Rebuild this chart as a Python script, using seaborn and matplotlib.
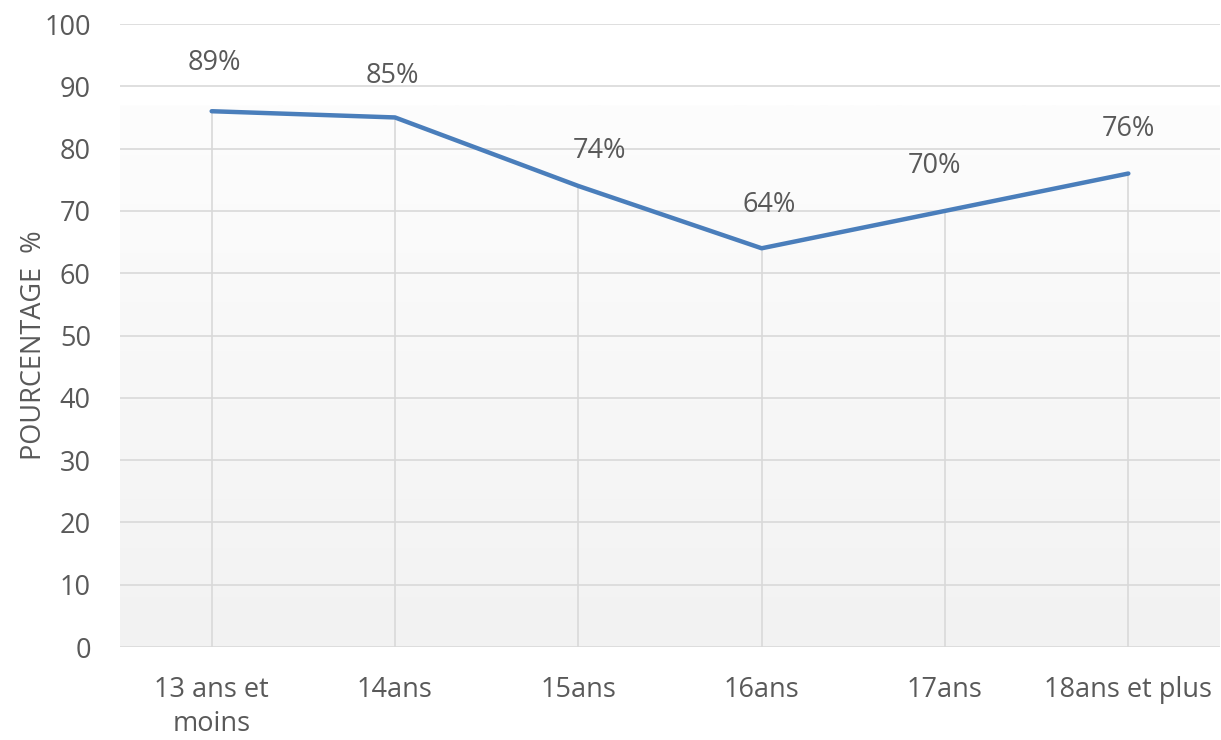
import numpy as np
import pandas as pd
import seaborn as sns
from matplotlib import pyplot as plt
from matplotlib.colors import LinearSegmentedColormap

# data
ages = ['13 ans et\nmoins', '14ans', '15ans', '16ans', '17ans', '18ans et plus']
pourcentage = [86, 85, 74, 64, 70, 76]
etiquettes = ['89%', '85%', '74%', '64%', '70%', '76%']

# label placement (pixels, relative to the point)
label_offsets = [(3, 48), (-3, 41), (21, 35), (8, 43), (-10, 45), (0, 45)]

TEXT = '#595959'
GRID = '#d9d9d9'
LINE = '#4a7ebb'
FS = 19.5

sns.set_style('white')
plt.rcParams['font.family'] = ['Open Sans', 'DejaVu Sans']

df = pd.DataFrame({'age': ages, 'pct': pourcentage})
df['pos'] = np.arange(len(df))

fig = plt.figure(figsize=(12.21, 7.40), dpi=100)
ax = fig.add_axes([120 / 1221, 93 / 740, 1100 / 1221, 623 / 740])

# soft grey gradient in the plot area
grad = np.linspace(0, 1, 256).reshape(-1, 1)
top_frac = (647 - 105) / 623
ax.imshow(grad, cmap=LinearSegmentedColormap.from_list('g', ['#f2f2f2', '#fdfdfd']),
          aspect='auto', extent=(-0.5, 5.5, 0, 100 * top_frac), origin='lower', zorder=0)

ax.set_xlim(-0.5, 5.5)
ax.set_ylim(0, 100)
ax.set_yticks(range(0, 101, 10))
ax.yaxis.grid(True, color=GRID, lw=1.2, zorder=1)
ax.set_axisbelow(True)

# drop lines
ax.vlines(df['pos'], 0, df['pct'], color=GRID, lw=1.2, zorder=1)

sns.lineplot(data=df, x='pos', y='pct', color=LINE, lw=3.2, ax=ax, zorder=3)

for (x, y, lab), (dx, dy) in zip(zip(df['pos'], df['pct'], etiquettes), label_offsets):
    ax.annotate(lab, (x, y), xytext=(dx * 0.72, dy * 0.72), textcoords='offset points',
                ha='center', va='center', fontsize=FS, color=TEXT)

ax.set_xticks(df['pos'])
ax.set_xticklabels(ages)
ax.tick_params(axis='x', length=0, pad=21, labelsize=FS, labelcolor=TEXT)
ax.tick_params(axis='y', length=0, pad=21, labelsize=FS, labelcolor=TEXT)
for lab in ax.get_xticklabels():
    lab.set_linespacing(1.3)

ax.set_xlabel('')
ax.set_ylabel('POURCENTAGE  %', fontsize=FS, color=TEXT)
ax.yaxis.set_label_coords(-72 / 1100, 0.485)

for s in ax.spines.values():
    s.set_visible(False)

fig.savefig('out.png', dpi=100)
